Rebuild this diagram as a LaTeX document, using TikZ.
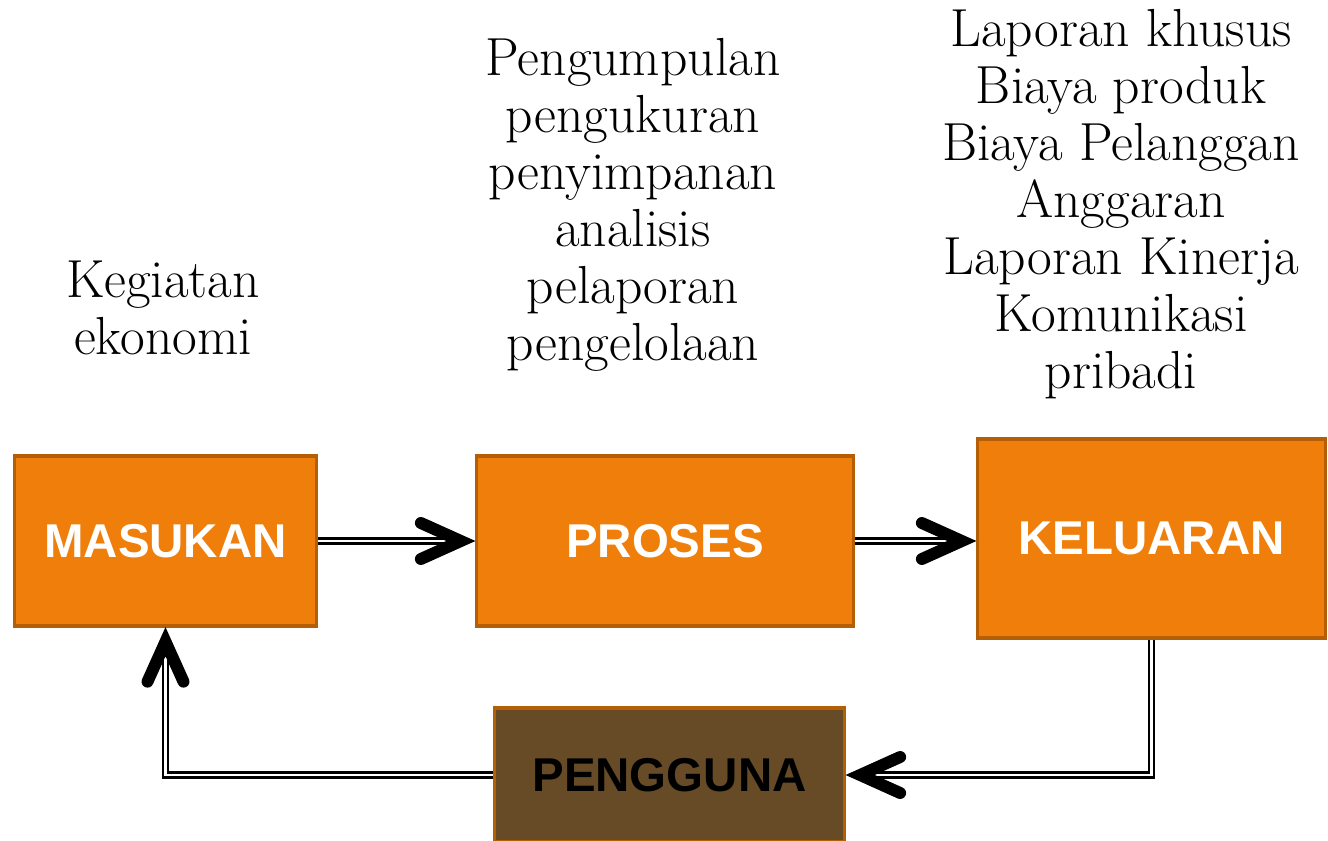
\documentclass[tikz,border=0pt]{standalone}
\usepackage{fontspec}
\newfontfamily\boxfont{Liberation Sans}
\usetikzlibrary{positioning, calc}
\definecolor{boxorange}{HTML}{EF7F0A}
\definecolor{boxedge}{HTML}{B45F06}
\definecolor{userbrown}{HTML}{664B26}

\begin{document}
\begin{tikzpicture}[
    x=0.02cm, y=-0.02cm,
    box/.style={rectangle, draw=boxedge, fill=boxorange, line width=1.9pt, minimum height=3.4cm, inner sep=0pt, font=\boxfont\bfseries\fontsize{27}{32}\selectfont, text=white},
    userbox/.style={box, fill=userbrown, text=black, minimum height=2.68cm, minimum width=7.0cm},
    note/.style={align=center, inner sep=0pt, font=\fontsize{30.5}{32.4}\selectfont},
    link/.style={draw=black, line width=1.3pt, double=white, double distance=1.6pt},
    head/.style={draw=black, line width=6.8pt, line cap=round, line join=miter}
]
\clip (0,0) rectangle (1328,841);

% Nodes
\node (masukan) [box, minimum width=6.04cm] at (165.5,541) {MASUKAN};
\node (proses) [box, minimum width=7.54cm] at (665,541) {PROSES};
\node (keluaran) [box, minimum width=6.96cm, minimum height=3.98cm] at (1151.5,538.5) {KELUARAN};
\node (pengguna) [userbox] at (669.5,775) {PENGGUNA};

\node (kegiatan) [note] at (163,308) {Kegiatan\\ekonomi};
\node (tahap) [note] at (633,205) {Pengumpulan\\pengukuran\\penyimpanan\\analisis\\pelaporan\\pengelolaan};
\node (laporan) [note] at (1121,204) {Laporan khusus\\Biaya produk\\Biaya Pelanggan\\Anggaran\\Laporan Kinerja\\Komunikasi\\pribadi};

\coordinate (kin) at (proses.east -| keluaran.west);

% Arrows
\draw [link] (masukan.east) -- ($(proses.west)+(-12,0)$);
\draw [head] ($(proses.west)+(-54,-18)$) -- ($(proses.west)+(-14,0)$) -- ($(proses.west)+(-54,18)$);

\draw [link] (proses.east) -- ($(kin)+(-12,0)$);
\draw [head] ($(kin)+(-54,-18)$) -- ($(kin)+(-14,0)$) -- ($(kin)+(-54,18)$);

\draw [link] (keluaran.south) |- ($(pengguna.east)+(12,0)$);
\draw [head] ($(pengguna.east)+(54,-18)$) -- ($(pengguna.east)+(14,0)$) -- ($(pengguna.east)+(54,18)$);

\draw [link] (pengguna.west) -| ($(masukan.south)+(0,12)$);
\draw [head] ($(masukan.south)+(-18,54)$) -- ($(masukan.south)+(0,14)$) -- ($(masukan.south)+(18,54)$);

\end{tikzpicture}
\end{document}
